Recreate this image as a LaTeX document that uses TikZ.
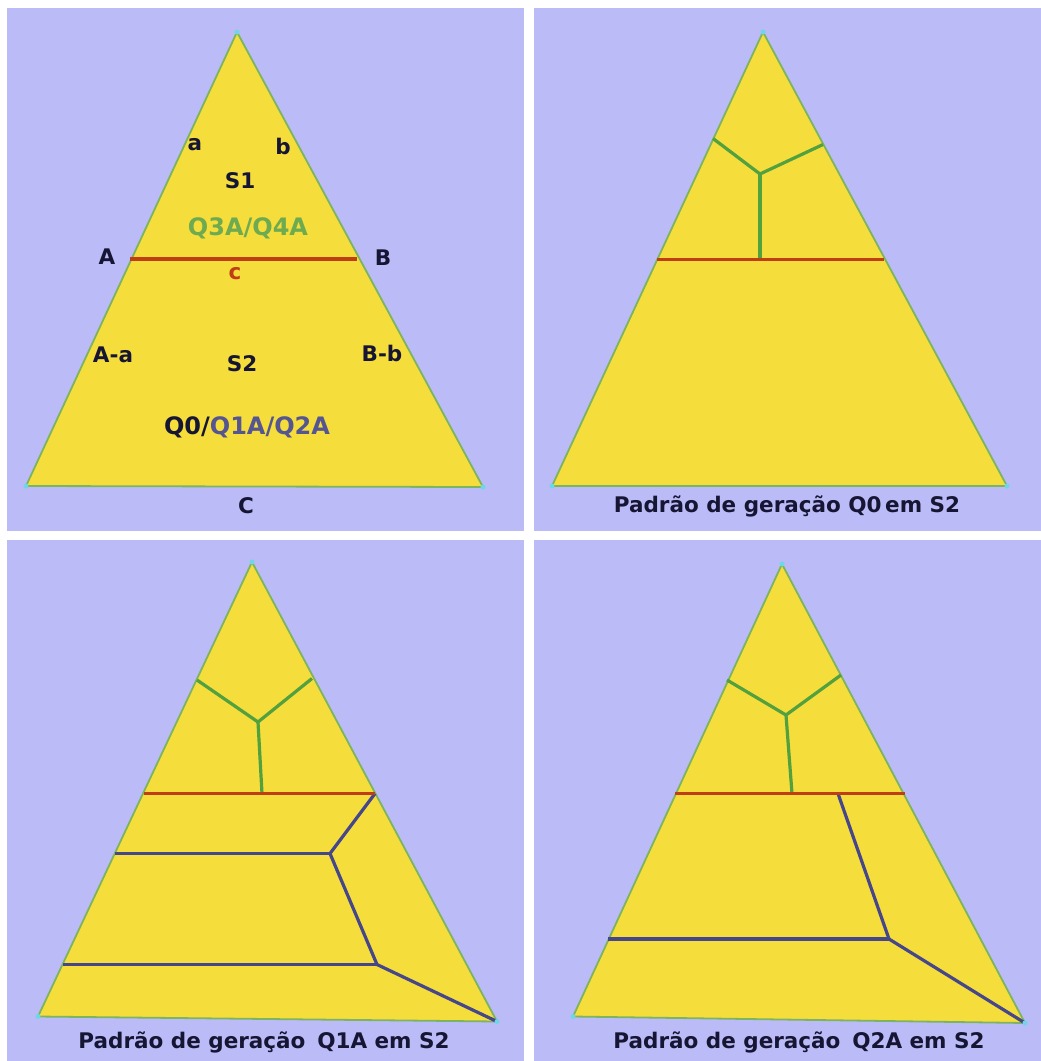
\documentclass[tikz,border=0pt]{standalone}
\usepackage{fontspec}
\setmainfont{DejaVu Sans}
\usetikzlibrary{calc}

\definecolor{lavanda}{RGB}{187,187,248}
\definecolor{amarelo}{RGB}{245,221,60}
\definecolor{borda}{RGB}{125,180,95}
\definecolor{vermelho}{RGB}{192,62,22}
\definecolor{verde}{RGB}{82,160,62}
\definecolor{azul}{RGB}{70,70,138}
\definecolor{tinta}{RGB}{22,22,52}
\definecolor{ciano}{RGB}{110,215,230}
\definecolor{txverde}{RGB}{110,170,80}
\definecolor{txazul}{RGB}{85,85,145}

\tikzset{
  painel/.style={fill=lavanda},
  triang/.style={fill=amarelo,draw=borda,line width=1.8pt,line join=round},
  corte/.style={draw=vermelho,line width=3.8pt},
  ramo/.style={draw=verde,line width=3.2pt,line join=round},
  faixa/.style={draw=azul,line width=3.2pt,line join=round},
  rotulo/.style={text=tinta,inner sep=0pt,font=\bfseries\fontsize{21.5}{25}\selectfont},
  rotuloq/.style={inner sep=0pt,font=\bfseries\fontsize{24}{28}\selectfont},
  legenda/.style={text=tinta,inner sep=0pt,anchor=base,font=\bfseries\fontsize{21.5}{25}\selectfont},
}

\begin{document}
\begin{tikzpicture}[x=1pt,y=-1pt]
  \useasboundingbox (0,0) rectangle (1041,1061);
  \fill[white] (0,0) rectangle (1041,1061);
  \fill[painel] (7,8) rectangle (524,531);
  \fill[painel] (534,8) rectangle (1041,531);
  \fill[painel] (7,540) rectangle (524,1061);
  \fill[painel] (534,540) rectangle (1041,1061);

  % painel 1: regioes S1 e S2
  \coordinate (t1) at (237,32);
  \coordinate (e1) at (26,486);
  \coordinate (d1) at (483,487);
  \filldraw[triang] (t1) -- (e1) -- (d1) -- cycle;
  \coordinate (A1) at (130,259);
  \coordinate (B1) at (357,259);
  \draw[corte] (A1) -- (B1);
  \node[rotulo] (la) at (195,145) {a};
  \node[rotulo] (lb) at (283,146) {b};
  \node[rotulo] (ls1) at (240,181) {S1};
  \node[rotuloq,text=txverde] (lq34) at (248,228) {Q3A/Q4A};
  \node[rotulo] (lA) at (107,257) {A};
  \node[rotulo] (lB) at (383,258) {B};
  \node[rotulo,text=vermelho] (lc) at (235,274) {c};
  \node[rotulo] (lAa) at (113,355) {A-a};
  \node[rotulo] (ls2) at (242,364) {S2};
  \node[rotulo] (lBb) at (382,353) {B-b};
  \node[rotuloq,text=tinta] (lq012) at (247,427) {Q0/\textcolor{txazul}{Q1A/Q2A}};
  \node[rotulo] (lC) at (246,506) {C};

  % painel 2: padrao Q0
  \coordinate (t2) at (763,32);
  \coordinate (e2) at (552,486);
  \coordinate (d2) at (1007,486);
  \filldraw[triang] (t2) -- (e2) -- (d2) -- cycle;
  \coordinate (A2) at (657,259.5);
  \coordinate (B2) at (884,259.5);
  \coordinate (y2e) at (713,138.5);
  \coordinate (y2d) at (823,144.5);
  \coordinate (y2c) at (760,174);
  \coordinate (y2b) at (760,259.5);
  \draw[ramo] (y2e) -- (y2c) -- (y2d);
  \draw[ramo] (y2c) -- (y2b);
  \draw[corte] (A2) -- (B2);
  \node[legenda] (leg2) at (787,512) {Padrão de geração Q0\,em S2};

  % painel 3: padrao Q1A
  \coordinate (t3) at (252,562);
  \coordinate (e3) at (38,1016.5);
  \coordinate (d3) at (497,1021.5);
  \filldraw[triang] (t3) -- (e3) -- (d3) -- cycle;
  \coordinate (A3) at (144,793.5);
  \coordinate (B3) at (375,793.5);
  \coordinate (y3e) at (197,680);
  \coordinate (y3d) at (312,678.5);
  \coordinate (y3c) at (258,722);
  \coordinate (y3b) at (262,793.5);
  \draw[ramo] (y3e) -- (y3c) -- (y3d);
  \draw[ramo] (y3c) -- (y3b);
  \coordinate (k31) at (330,853.5);
  \coordinate (k32) at (377,964.5);
  \coordinate (f31) at (115,853.5);
  \coordinate (f32) at (63,964.5);
  \draw[faixa] (B3) -- (k31) -- (k32) -- (d3);
  \draw[faixa] (f31) -- (k31);
  \draw[faixa] (f32) -- (k32);
  \draw[corte] (A3) -- (B3);
  \node[legenda] (leg3) at (264,1048.5) {Padrão de geração\hspace{0.2em} Q1A em S2};

  % painel 4: padrao Q2A
  \coordinate (t4) at (782,564);
  \coordinate (e4) at (573,1016.5);
  \coordinate (d4) at (1025,1023);
  \filldraw[triang] (t4) -- (e4) -- (d4) -- cycle;
  \coordinate (A4) at (675,793.5);
  \coordinate (B4) at (905,793.5);
  \coordinate (y4e) at (727,680);
  \coordinate (y4d) at (841,675);
  \coordinate (y4c) at (786,715);
  \coordinate (y4b) at (792,793.5);
  \draw[ramo] (y4e) -- (y4c) -- (y4d);
  \draw[ramo] (y4c) -- (y4b);
  \coordinate (k40) at (838,793.5);
  \coordinate (k41) at (889,939);
  \coordinate (f41) at (608,939);
  \draw[faixa] (k40) -- (k41) -- (d4);
  \draw[faixa] (f41) -- (k41);
  \draw[corte] (A4) -- (B4);
  \node[legenda] (leg4) at (799,1048.5) {Padrão de geração\hspace{0.2em} Q2A em S2};

  \foreach \v in {t1,e1,d1,t2,e2,d2,t3,e3,d3,t4,e4,d4}
    \fill[ciano] (\v) circle (2.5pt);
\end{tikzpicture}
\end{document}
